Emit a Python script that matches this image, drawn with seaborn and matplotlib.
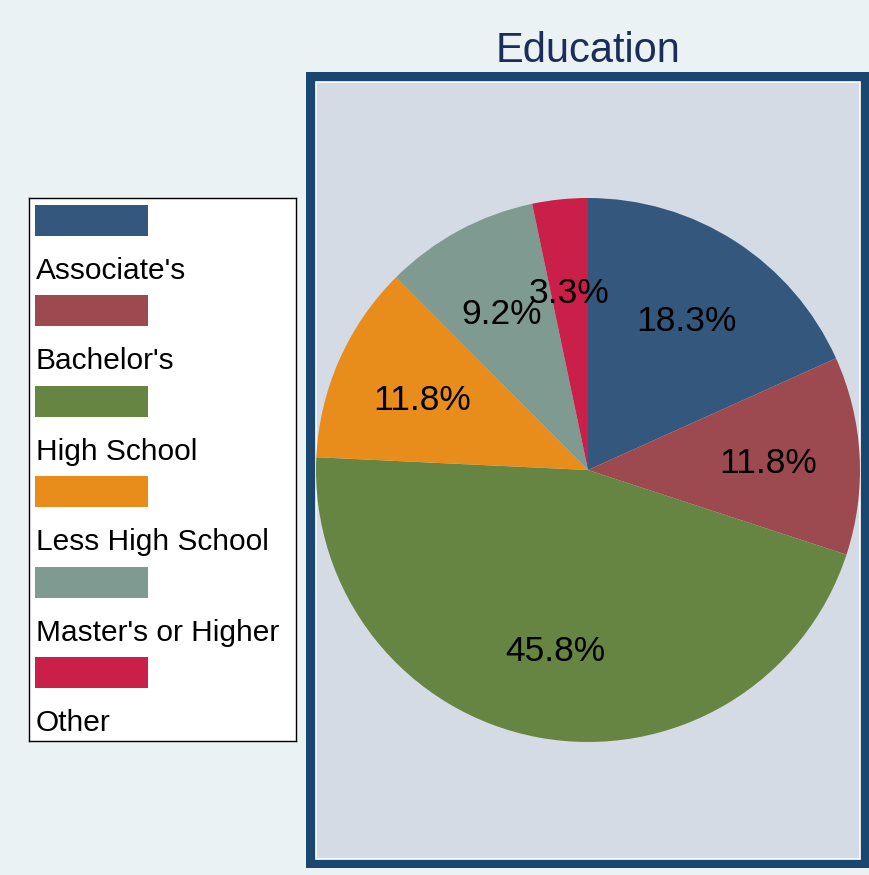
import matplotlib
matplotlib.use("Agg")
import matplotlib.pyplot as plt
from matplotlib.patches import Rectangle
import seaborn as sns

categories = ["Associate's", "Bachelor's", "High School", "Less High School",
              "Master's or Higher", "Other"]
values = [18.3, 11.8, 45.8, 11.8, 9.2, 3.3]
title = "Education"

sns.set_theme(style="white")
plt.rcParams['font.family'] = ['Liberation Sans', 'DejaVu Sans']
palette = sns.color_palette(["#34587d", "#9c4a50", "#678542", "#e88d1b",
                             "#7f9b91", "#c91f48"])

W, H = 869, 875
fig = plt.figure(figsize=(W / 100, H / 100), dpi=100)
fig.patch.set_facecolor("#eaf2f3")


def fx(px):
    return px / W


def fy(py):
    return 1 - py / H


# plot region frame (background axes)
bax = fig.add_axes([0, 0, 1, 1], zorder=-5)
bax.set_xlim(0, W)
bax.set_ylim(H, 0)
bax.axis("off")
bax.add_patch(Rectangle((306, 72), 869 - 306, 868 - 72, facecolor="#1a476f",
                        edgecolor="none"))
bax.add_patch(Rectangle((316, 82), 860 - 316, 859 - 82, facecolor="#d5dbe5",
                        edgecolor="white", linewidth=1.2))

# pie
cx, cy, r = 588, 470, 272
ax = fig.add_axes([fx(cx - r), fy(cy + r), fx(2 * r), 2 * r / H], zorder=1)
it = iter(values)
wedges, texts, autotexts = ax.pie(
    values, colors=palette, startangle=90, counterclock=False,
    autopct=lambda p: f"{next(it):.1f}%", pctdistance=0.665,
    wedgeprops=dict(linewidth=0),
    textprops=dict(fontsize=25.5, color="black"))
for t in autotexts:
    t.set_va("center_baseline")
ax.set_xlim(-1, 1)
ax.set_ylim(-1, 1)
ax.set_aspect("equal")
ax.axis("off")

fig.text(fx(588), fy(62), title, ha="center", va="baseline",
         fontsize=30, color="#1c2d5c")

# legend
lx0, lx1, ly0, ly1 = 29, 296, 198, 741
lax = fig.add_axes([fx(lx0), fy(ly1), fx(lx1 - lx0), (ly1 - ly0) / H], zorder=1)
lax.set_xlim(lx0, lx1)
lax.set_ylim(ly1, ly0)
lax.set_facecolor("white")
lax.set_xticks([])
lax.set_yticks([])
for s in lax.spines.values():
    s.set_color("black")
    s.set_linewidth(1)
step = 90.4
for i, (cat, col) in enumerate(zip(categories, palette)):
    top = 205 + i * step
    lax.add_patch(Rectangle((35, top), 113, 31, facecolor=col, edgecolor="none"))
    lax.text(36, top + 66, cat, ha="left", va="center", fontsize=21.5, color="black")

fig.savefig("out.png", dpi=100, facecolor=fig.get_facecolor())
